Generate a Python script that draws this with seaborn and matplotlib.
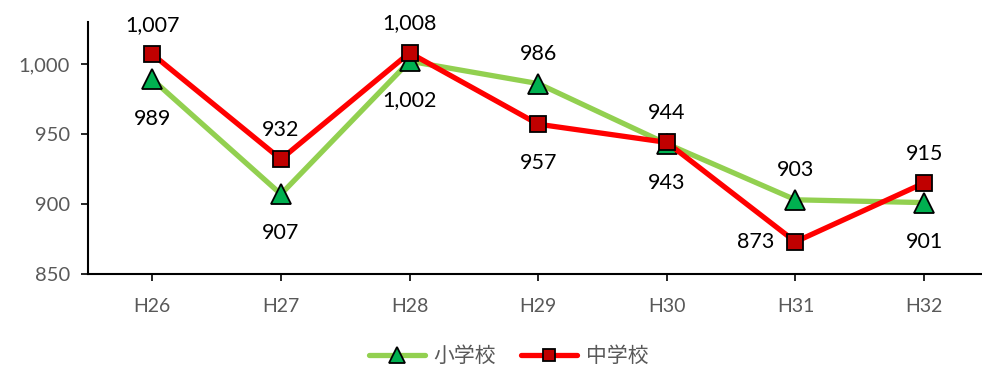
import matplotlib
matplotlib.use("Agg")
import matplotlib.pyplot as plt
from matplotlib.lines import Line2D
import seaborn as sns
import pandas as pd

categories = ["H26", "H27", "H28", "H29", "H30", "H31", "H32"]
elementary = [989, 907, 1002, 986, 943, 903, 901]
junior = [1007, 932, 1008, 957, 944, 873, 915]
elem_label_pos = ["below", "below", "below", "above", "below", "above", "below"]
junior_label_pos = ["above", "above", "above", "below", "above", "left", "above"]
yticks = [850, 900, 950, 1000]

sns.set_theme(style="white")
plt.rcParams['font.family'] = ['Lato', 'Noto Sans CJK JP', 'DejaVu Sans']

fig = plt.figure(figsize=(9.82, 3.69), dpi=100)
ax = fig.add_axes([88/982, (369-274)/369, (982-88)/982, (274-22)/369])

df = pd.DataFrame({"cat": categories * 2,
                   "val": elementary + junior,
                   "series": ["小学校"] * 7 + ["中学校"] * 7})

styles = {
    "小学校": dict(color="#92D050", marker="^", markersize=14, markerfacecolor="#00B050"),
    "中学校": dict(color="#FF0000", marker="s", markersize=12, markerfacecolor="#C00000"),
}
for z, (name, st) in enumerate(styles.items()):
    sns.lineplot(data=df[df.series == name], x="cat", y="val", ax=ax,
                 linewidth=3.8, markeredgecolor="black", markeredgewidth=1.3,
                 legend=False, zorder=3 + z, **st)

def annotate(vals, poss):
    for i, (v, p) in enumerate(zip(vals, poss)):
        if p == "above":
            off, ha, va = (0, 14), "center", "bottom"
        elif p == "below":
            off, ha, va = (0, -21), "center", "top"
        else:
            off, ha, va = (-15, 0), "right", "center"
        ax.annotate(f"{v:,}", (i, v), xytext=off, textcoords="offset points",
                    ha=ha, va=va, fontsize=15.5, color="black")

annotate(elementary, elem_label_pos)
annotate(junior, junior_label_pos)

ax.set_xlim(-0.5, 6.45)
ax.set_ylim(850, 1030)
ax.set_yticks(yticks)
ax.set_yticklabels([f"{t:,}" for t in yticks])
ax.set_xlabel("")
ax.set_ylabel("")
for s in ["top", "right"]:
    ax.spines[s].set_visible(False)
for s in ["left", "bottom"]:
    ax.spines[s].set_color("black")
    ax.spines[s].set_linewidth(1.5)
ax.tick_params(axis="both", direction="out", length=5, width=1.2, color="black",
               labelcolor="#595959", labelsize=14, left=True, bottom=True)
ax.tick_params(axis="x", pad=12)
ax.tick_params(axis="y", pad=8, labelsize=14.5)
ax.grid(False)

handles = []
for name, st in styles.items():
    st2 = dict(st)
    st2["markersize"] = st["markersize"] - 3
    handles.append(Line2D([], [], linewidth=3.8, markeredgecolor="black",
                          markeredgewidth=1.3, **st2))
fig.legend(handles, list(styles.keys()), loc="lower center", bbox_to_anchor=(0.518, -0.045), ncol=2,
           frameon=False, labelcolor="#595959", handlelength=2.7, handletextpad=0.4,
           columnspacing=1.2, prop={"family": ["Noto Sans CJK JP", "DejaVu Sans"], "size": 15})

fig.savefig("out.png", dpi=100)
